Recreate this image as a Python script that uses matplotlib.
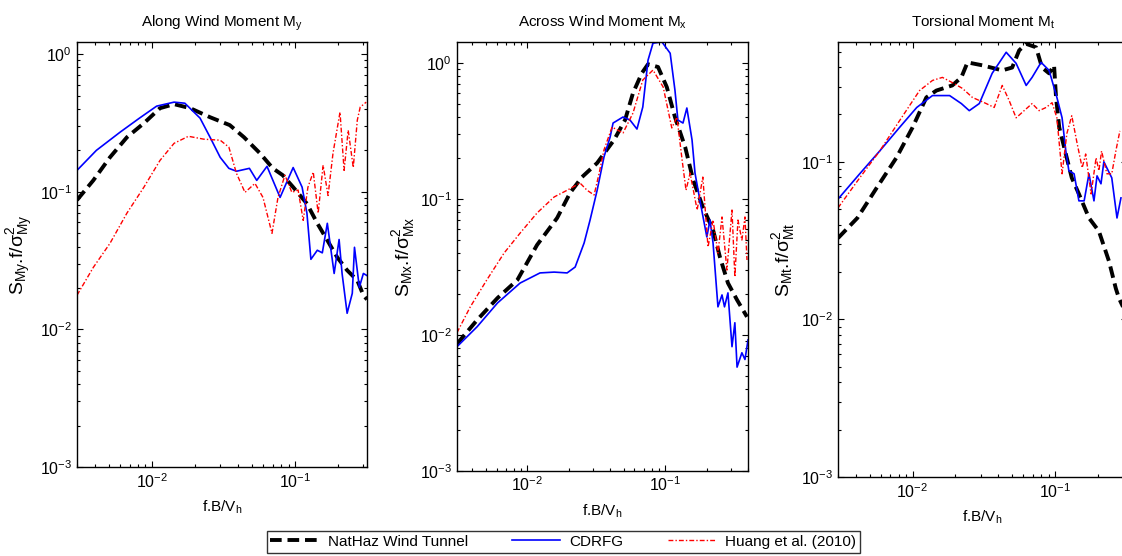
import matplotlib
matplotlib.use("Agg")
import matplotlib.pyplot as plt
from matplotlib.ticker import LogLocator, NullFormatter

plt.rcParams['font.family'] = ['Liberation Sans', 'DejaVu Sans']
plt.rcParams['mathtext.fontset'] = 'custom'
plt.rcParams['mathtext.rm'] = 'Liberation Sans'
plt.rcParams['mathtext.it'] = 'Liberation Sans'
plt.rcParams['mathtext.default'] = 'regular'

# ---- Along wind moment My ----
along_x_nathaz = [0.003, 0.0039, 0.0051, 0.0067, 0.0088, 0.0114, 0.0143, 0.0185, 0.0255,
                  0.035, 0.044, 0.057, 0.070, 0.082, 0.097, 0.121, 0.143, 0.168, 0.197,
                  0.231, 0.272, 0.30, 0.318]
along_y_nathaz = [0.087, 0.121, 0.178, 0.249, 0.315, 0.405, 0.433, 0.405, 0.348,
                  0.305, 0.249, 0.19, 0.148, 0.132, 0.108, 0.082, 0.059, 0.0444, 0.0334,
                  0.0269, 0.0227, 0.0177, 0.0165]
along_x_cdrfg = [0.003, 0.0041, 0.006, 0.0082, 0.0108, 0.0143, 0.017, 0.0217, 0.0255, 0.030,
                 0.0345, 0.039, 0.048, 0.054, 0.0637, 0.0786, 0.097, 0.112, 0.121, 0.129,
                 0.143, 0.155, 0.168, 0.1875, 0.203, 0.213, 0.231, 0.251, 0.26, 0.281,
                 0.30, 0.318]
along_y_cdrfg = [0.143, 0.20, 0.271, 0.343, 0.419, 0.448, 0.44, 0.343, 0.249, 0.178,
                 0.148, 0.141, 0.148, 0.121, 0.153, 0.091, 0.15, 0.108, 0.070, 0.0323,
                 0.0376, 0.036, 0.059, 0.0255, 0.045, 0.0255, 0.0131, 0.0183, 0.0395, 0.0202,
                 0.0255, 0.0246]
along_x_huang = [0.003, 0.0039, 0.0051, 0.0067, 0.0088, 0.0114, 0.0143, 0.018, 0.0231, 0.030,
                 0.0345, 0.039, 0.0447, 0.0525, 0.0597, 0.069, 0.076, 0.085, 0.095, 0.105,
                 0.114, 0.123, 0.134, 0.145, 0.157, 0.17, 0.184, 0.206, 0.22, 0.235,
                 0.255, 0.272, 0.285, 0.314]
along_y_huang = [0.0177, 0.0282, 0.0422, 0.070, 0.108, 0.169, 0.225, 0.253, 0.241, 0.237,
                 0.211, 0.136, 0.099, 0.115, 0.091, 0.0499, 0.091, 0.132, 0.099, 0.103,
                 0.062, 0.108, 0.139, 0.070, 0.156, 0.094, 0.19, 0.379, 0.143, 0.28,
                 0.15, 0.331, 0.412, 0.448]

# ---- Across wind moment Mx ----
across_x_nathaz = [0.0031, 0.00434, 0.0061, 0.0085, 0.0118, 0.0165, 0.0205, 0.025, 0.0322,
                   0.0427, 0.0513, 0.0586, 0.068, 0.0753, 0.089, 0.103, 0.118, 0.140, 0.16,
                   0.188, 0.223, 0.25, 0.286, 0.333, 0.393]
across_y_nathaz = [0.0086, 0.0129, 0.0187, 0.0254, 0.0459, 0.0725, 0.111, 0.145, 0.184,
                   0.272, 0.381, 0.602, 0.845, 0.98, 0.935, 0.666, 0.401, 0.241, 0.138,
                   0.0873, 0.0592, 0.0375, 0.0241, 0.0181, 0.0136]
across_x_cdrfg = [0.0031, 0.00434, 0.0061, 0.0089, 0.0124, 0.0157, 0.0195, 0.0223, 0.0259,
                  0.0286, 0.0322, 0.0361, 0.040, 0.042, 0.0496, 0.0557, 0.0626, 0.069, 0.0753,
                  0.0818, 0.095, 0.109, 0.118, 0.124, 0.135, 0.144, 0.157, 0.165, 0.179,
                  0.201, 0.212, 0.223, 0.242, 0.259, 0.27, 0.286, 0.306, 0.321, 0.333,
                  0.361, 0.38, 0.40]
across_y_cdrfg = [0.0082, 0.0115, 0.0172, 0.0241, 0.0286, 0.029, 0.0286, 0.0316, 0.0475,
                  0.070, 0.116, 0.204, 0.286, 0.362, 0.401, 0.381, 0.327, 0.475, 1.05,
                  1.40, 1.43, 1.18, 0.633, 0.381, 0.362, 0.467, 0.272, 0.155, 0.098,
                  0.0526, 0.070, 0.0475, 0.0161, 0.0197, 0.0161, 0.0204, 0.0082, 0.0123, 0.0058,
                  0.0074, 0.0066, 0.0092]
across_x_huang = [0.0031, 0.00387, 0.0051, 0.0068, 0.0089, 0.0118, 0.0157, 0.0195, 0.0242,
                  0.0272, 0.0306, 0.0333, 0.0361, 0.0413, 0.0496, 0.0586, 0.069, 0.0818, 0.097,
                  0.112, 0.122, 0.133, 0.142, 0.152, 0.171, 0.188, 0.205, 0.223, 0.242,
                  0.259, 0.281, 0.306, 0.321, 0.338, 0.361, 0.38, 0.393]
across_y_huang = [0.0104, 0.0161, 0.0254, 0.040, 0.0562, 0.0789, 0.1035, 0.116, 0.131,
                  0.116, 0.107, 0.155, 0.23, 0.338, 0.306, 0.429, 0.75, 0.888, 0.666,
                  0.333, 0.401, 0.194, 0.116, 0.155, 0.083, 0.145, 0.0443, 0.070, 0.040,
                  0.0738, 0.030, 0.083, 0.0267, 0.070, 0.0499, 0.0738, 0.0356]

# ---- Torsional moment Mt ----
tors_x_nathaz = [0.003, 0.0041, 0.0056, 0.0077, 0.010, 0.0125, 0.0147, 0.019, 0.022, 0.0243,
                 0.0309, 0.0426, 0.050, 0.056, 0.0627, 0.0736, 0.081, 0.0908, 0.0984, 0.1016,
                 0.107, 0.119, 0.131, 0.147, 0.173, 0.203, 0.239, 0.267, 0.281, 0.30]
tors_y_nathaz = [0.0328, 0.044, 0.0683, 0.106, 0.165, 0.256, 0.283, 0.305, 0.343, 0.427,
                 0.409, 0.38, 0.396, 0.509, 0.56, 0.532, 0.396, 0.364, 0.409, 0.256,
                 0.165, 0.112, 0.0791, 0.0625, 0.044, 0.0363, 0.0234, 0.0157, 0.0136, 0.012]
tors_x_cdrfg = [0.003, 0.00426, 0.00588, 0.0081, 0.0107, 0.0138, 0.0182, 0.022, 0.025, 0.0294,
                0.0362, 0.0454, 0.0533, 0.0627, 0.069, 0.0798, 0.0908, 0.103, 0.112, 0.119,
                0.125, 0.136, 0.147, 0.16, 0.173, 0.1875, 0.197, 0.21, 0.22, 0.25,
                0.272, 0.29]
tors_y_cdrfg = [0.058, 0.0839, 0.117, 0.165, 0.221, 0.263, 0.263, 0.234, 0.211, 0.234,
                0.364, 0.495, 0.421, 0.305, 0.343, 0.427, 0.38, 0.256, 0.19, 0.117,
                0.0877, 0.0839, 0.0565, 0.0565, 0.0839, 0.0565, 0.0814, 0.0725, 0.1, 0.0791,
                0.044, 0.059]
tors_x_huang = [0.003, 0.00426, 0.00588, 0.0081, 0.0112, 0.0138, 0.0162, 0.019, 0.0224, 0.0263,
                0.0329, 0.0374, 0.0426, 0.0476, 0.0533, 0.0607, 0.069, 0.0773, 0.0865, 0.0953,
                0.103, 0.110, 0.112, 0.121, 0.131, 0.143, 0.155, 0.164, 0.179, 0.194,
                0.203, 0.212, 0.231, 0.25, 0.267, 0.285]
tors_y_huang = [0.051, 0.0791, 0.117, 0.182, 0.283, 0.328, 0.343, 0.318, 0.292, 0.256,
                0.234, 0.221, 0.305, 0.245, 0.19, 0.211, 0.234, 0.211, 0.221, 0.237,
                0.19, 0.1, 0.0839, 0.151, 0.196, 0.130, 0.0916, 0.112, 0.0625, 0.106,
                0.0877, 0.117, 0.0839, 0.0839, 0.117, 0.157]

labels = ['NatHaz Wind Tunnel', 'CDRFG', 'Huang et al. (2010)']

panels = [
    dict(title=r'Along Wind Moment M$_{y}$', ylabel=r'S$_{My}$.f/$\sigma^2_{My}$',
         xlim=(0.003, 0.318), ylim=(1e-3, 1.22),
         pos=[0.0686, 0.160, 0.2585, 0.764], ylab_x=-0.145,
         data=[(along_x_nathaz, along_y_nathaz), (along_x_cdrfg, along_y_cdrfg),
               (along_x_huang, along_y_huang)]),
    dict(title=r'Across Wind Moment M$_{x}$', ylabel=r'S$_{Mx}$.f/$\sigma^2_{Mx}$',
         xlim=(0.0031, 0.40), ylim=(1e-3, 1.43),
         pos=[0.4073, 0.153, 0.2594, 0.7716], ylab_x=-0.137,
         data=[(across_x_nathaz, across_y_nathaz), (across_x_cdrfg, across_y_cdrfg),
               (across_x_huang, across_y_huang)]),
    dict(title=r'Torsional Moment M$_{t}$', ylabel=r'S$_{Mt}$.f/$\sigma^2_{Mt}$',
         xlim=(0.003, 0.32), ylim=(1e-3, 0.573),
         pos=[0.7469, 0.142, 0.2576, 0.782], ylab_x=-0.142,
         data=[(tors_x_nathaz, tors_y_nathaz), (tors_x_cdrfg, tors_y_cdrfg),
               (tors_x_huang, tors_y_huang)]),
]

styles = [dict(color='black', lw=2.8, linestyle=(0, (3, 1.5))),
          dict(color='#0000ff', lw=1.2, linestyle='-'),
          dict(color='#ff0000', lw=1.0, linestyle=(0, (3.5, 1.5, 1, 1.5)))]

fig = plt.figure(figsize=(11.22, 5.56), dpi=100)
handles = []
for p in panels:
    ax = fig.add_axes(p['pos'])
    hs = []
    for (x, y), st in zip(p['data'], styles):
        h, = ax.plot(x, y, **st)
        hs.append(h)
    handles = hs
    ax.set_xscale('log')
    ax.set_yscale('log')
    ax.set_xlim(*p['xlim'])
    ax.set_ylim(*p['ylim'])
    ax.xaxis.set_major_locator(LogLocator(base=10, numticks=10))
    ax.xaxis.set_minor_locator(LogLocator(base=10, subs=range(2, 10), numticks=20))
    ax.yaxis.set_minor_locator(LogLocator(base=10, subs=range(2, 10), numticks=20))
    ax.xaxis.set_minor_formatter(NullFormatter())
    ax.yaxis.set_minor_formatter(NullFormatter())
    ax.tick_params(which='both', direction='in', top=True, right=True, labelsize=11.5)
    ax.tick_params(which='major', length=4, width=0.8)
    ax.tick_params(which='minor', length=2.5, width=0.8)
    for s in ax.spines.values():
        s.set_linewidth(1.0)
    ax.set_title(p['title'], fontsize=11, pad=11)
    ax.set_xlabel(r'f.B/V$_{h}$', fontsize=11, labelpad=6)
    ax.set_ylabel(p['ylabel'], fontsize=14)
    ax.yaxis.set_label_coords(p['ylab_x'], 0.5)

leg = fig.legend(handles, labels, loc='center', bbox_to_anchor=(0.502, 0.0255), ncol=3,
                 fontsize=11, frameon=True, fancybox=False, edgecolor='black',
                 handlelength=3.1, columnspacing=2.9, borderpad=0.25, handletextpad=0.65,
                 borderaxespad=0)
leg.get_frame().set_linewidth(1.0)

fig.savefig('out.png', dpi=100)
